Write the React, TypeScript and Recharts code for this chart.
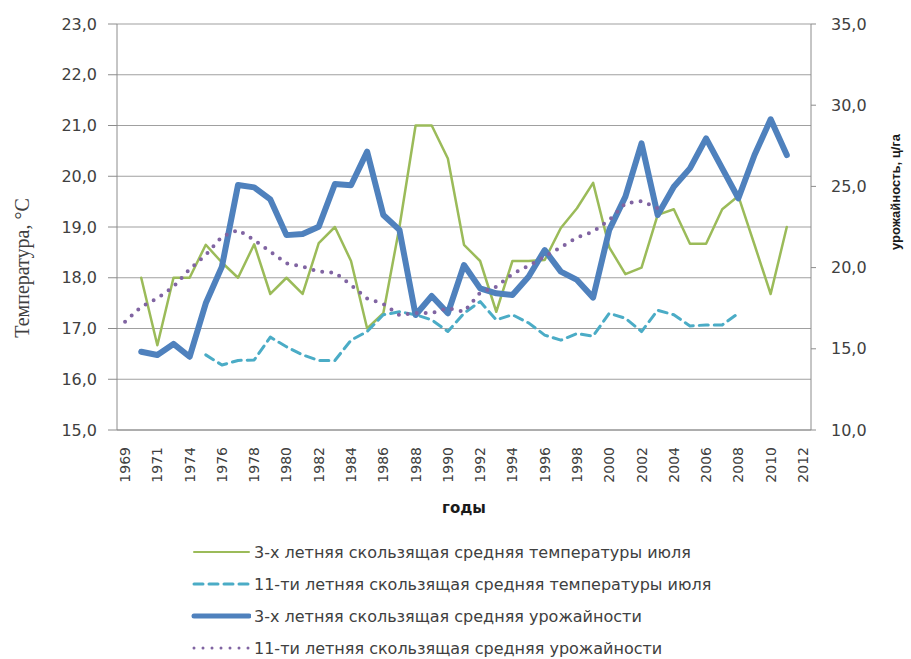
import { CartesianGrid, ComposedChart, Legend, Line, XAxis, YAxis } from 'recharts'

// годы (1973 в ряду нет)
const years = [
  1969, 1970, 1971, 1972, 1974, 1975, 1976, 1977, 1978, 1979, 1980, 1981, 1982, 1983, 1984,
  1985, 1986, 1987, 1988, 1989, 1990, 1991, 1992, 1993, 1994, 1995, 1996, 1997, 1998, 1999,
  2000, 2001, 2002, 2003, 2004, 2005, 2006, 2007, 2008, 2009, 2010, 2011, 2012,
]

// 3-х летняя скользящая средняя температуры июля, °C
const tempMa3 = [
  null, 18.0, 16.67, 18.0, 18.0, 18.65, 18.3, 18.0, 18.66, 17.68, 18.0, 17.68, 18.68, 19.0, 18.33,
  17.0, 17.3, 19.0, 21.0, 21.0, 20.35, 18.65, 18.33, 17.33, 18.33, 18.33, 18.35, 18.98, 19.37, 19.87,
  18.6, 18.07, 18.2, 19.24, 19.35, 18.67, 18.67, 19.35, 19.61, 18.65, 17.68, 19.0, null,
]

// 11-ти летняя скользящая средняя температуры июля, °C
const tempMa11 = [
  null, null, null, null, null, 16.48, 16.28, 16.37, 16.38, 16.83, 16.64, 16.48, 16.37, 16.37, 16.77,
  16.94, 17.27, 17.33, 17.27, 17.17, 16.94, 17.3, 17.53, 17.17, 17.27, 17.11, 16.87, 16.77, 16.9, 16.85,
  17.3, 17.2, 16.94, 17.36, 17.27, 17.05, 17.07, 17.07, 17.3, null, null, null, null,
]

// 3-х летняя скользящая средняя урожайности, ц/га
const yieldMa3 = [
  null, 14.82, 14.62, 15.3, 14.51, 17.8, 20.06, 25.09, 24.94, 24.2, 22.0, 22.07, 22.52, 25.15, 25.07,
  27.14, 23.24, 22.32, 17.08, 18.25, 17.19, 20.16, 18.72, 18.42, 18.31, 19.44, 21.08, 19.75, 19.24, 18.15,
  22.32, 24.37, 27.65, 23.24, 24.98, 26.11, 27.96, 26.11, 24.27, 26.93, 29.13, 26.93, null,
]

// 11-ти летняя скользящая средняя урожайности, ц/га
const yieldMa11 = [
  16.67, 17.59, 18.11, 18.82, 19.9, 20.78, 21.9, 22.32, 21.7, 20.98, 20.26, 20.06, 19.75, 19.69, 18.93,
  18.1, 17.76, 17.08, 17.2, 17.2, 17.5, 17.28, 18.45, 18.82, 19.6, 20.12, 20.67, 21.25, 21.86, 22.21,
  22.93, 23.96, 24.1, 23.65, null, null, null, null, null, null, null, null, null,
]

const tempTicks = [15, 16, 17, 18, 19, 20, 21, 22, 23]
const yieldTicks = [10, 15, 20, 25, 30, 35]
// засечки между годами на оси X
const boundaryTicks = [
  0, 1, 2, 3, 4, 5, 6, 7, 8, 9, 10, 11, 12, 13, 14, 15, 16, 17, 18, 19, 20, 21, 23, 24, 25, 26,
  27, 28, 29, 30, 31, 32, 33, 34, 35, 36, 37, 38, 39, 40, 41, 42, 43,
]

const series = [
  { key: 'tempMa3', name: '3-х летняя скользящая средняя температуры июля', color: '#9bbb59', width: 2.5, dash: undefined, axis: 't' },
  { key: 'tempMa11', name: '11-ти летняя скользящая средняя температуры июля', color: '#4bacc6', width: 3, dash: '9 6', axis: 't' },
  { key: 'yieldMa3', name: '3-х летняя скользящая средняя урожайности', color: '#4f81bd', width: 6, dash: undefined, axis: 'y' },
  { key: 'yieldMa11', name: '11-ти летняя скользящая средняя урожайности', color: '#8064a2', width: 4, dash: '0 9', axis: 'y' },
]

const rows = years.map((year, i) => ({
  year: String(year),
  tempMa3: tempMa3[i],
  tempMa11: tempMa11[i],
  yieldMa3: yieldMa3[i],
  yieldMa11: yieldMa11[i],
}))

const FONT = 'DejaVu Sans, Verdana, sans-serif'
const TEXT = '#404040'
const AXIS = '#8c8c8c'

const fmt = (v: number) => v.toFixed(1).replace('.', ',')

function YearTick({ x, y, payload }: any) {
  return (
    <text
      x={x}
      y={y}
      transform={`rotate(-90 ${x} ${y})`}
      textAnchor="end"
      dominantBaseline="central"
      fontFamily={FONT}
      fontSize={14}
      fill={TEXT}
    >
      {payload.value}
    </text>
  )
}

function LegendBox() {
  return (
    <div style={{ fontFamily: FONT, fontSize: 16, color: TEXT }}>
      {series.map((s) => (
        <div key={s.key} style={{ display: 'flex', alignItems: 'center', height: 32 }}>
          <svg width={60} height={12} style={{ marginRight: 3 }}>
            <line
              x1={3}
              y1={6}
              x2={58}
              y2={6}
              stroke={s.color}
              strokeWidth={s.key === 'yieldMa3' ? 5 : s.width === 2.5 ? 2 : 3}
              strokeDasharray={s.dash}
              strokeLinecap="round"
            />
          </svg>
          <span>{s.name}</span>
        </div>
      ))}
    </div>
  )
}

export default function App() {
  return (
    <div style={{ width: 911, height: 659, background: '#fff' }}>
      <style>{'body{margin:0}'}</style>
      <ComposedChart width={911} height={659} data={rows} margin={{ top: 24, right: 0, bottom: 0, left: 0 }}>
        <CartesianGrid yAxisId="t" vertical={false} stroke="#a0a0a0" strokeWidth={1.2} />
        <XAxis
          xAxisId="b"
          type="number"
          domain={[0, 43]}
          allowDataOverflow
          ticks={boundaryTicks}
          tick={false}
          tickSize={5}
          height={5}
          stroke={AXIS}
        />
        <XAxis
          xAxisId="cat"
          dataKey="year"
          scale="band"
          height={224}
          interval={1}
          axisLine={false}
          tickLine={false}
          tickSize={0}
          tickMargin={12}
          tick={<YearTick />}
          label={{
            value: 'годы',
            position: 'insideBottom',
            offset: 146,
            style: { fontFamily: FONT, fontSize: 15, fontWeight: 'bold', fill: '#1a1a1a' },
          }}
        />
        <YAxis
          yAxisId="t"
          width={117}
          domain={[15, 23]}
          ticks={tempTicks}
          tickFormatter={fmt}
          tickSize={9}
          tickMargin={11}
          stroke={AXIS}
          tick={{ fontFamily: FONT, fontSize: 16, fill: TEXT }}
          label={{
            content: () => (
              <text
                x={29}
                y={268}
                transform="rotate(-90 29 268)"
                textAnchor="middle"
                fontFamily="Liberation Serif, Times New Roman, serif"
                fontSize={20}
                fill={TEXT}
              >
                Температура, °С
              </text>
            ),
          }}
        />
        <YAxis
          yAxisId="y"
          orientation="right"
          width={100}
          domain={[10, 35]}
          ticks={yieldTicks}
          tickFormatter={fmt}
          tickSize={5}
          tickMargin={15}
          stroke={AXIS}
          tick={{ fontFamily: FONT, fontSize: 16, fill: TEXT, textAnchor: 'start' }}
          label={{
            content: () => (
              <text
                x={900}
                y={192}
                transform="rotate(-90 900 192)"
                textAnchor="middle"
                fontFamily="Liberation Sans Narrow, Liberation Sans, Arial, sans-serif"
                fontWeight="bold"
                fontSize={13}
                fill="#1a1a1a"
              >
                урожайность, ц/га
              </text>
            ),
          }}
        />
        {series.map((s) => (
          <Line
            key={s.key}
            xAxisId="cat"
            yAxisId={s.axis}
            dataKey={s.key}
            name={s.name}
            type="linear"
            stroke={s.color}
            strokeWidth={s.width}
            strokeDasharray={s.dash}
            strokeLinecap="round"
            strokeLinejoin="round"
            dot={false}
            activeDot={false}
            isAnimationActive={false}
          />
        ))}
        <Legend
          layout="horizontal"
          verticalAlign="middle"
          align="center"
          wrapperStyle={{ left: 191, top: 536, width: 620 }}
          content={() => <LegendBox />}
        />
      </ComposedChart>
    </div>
  )
}
